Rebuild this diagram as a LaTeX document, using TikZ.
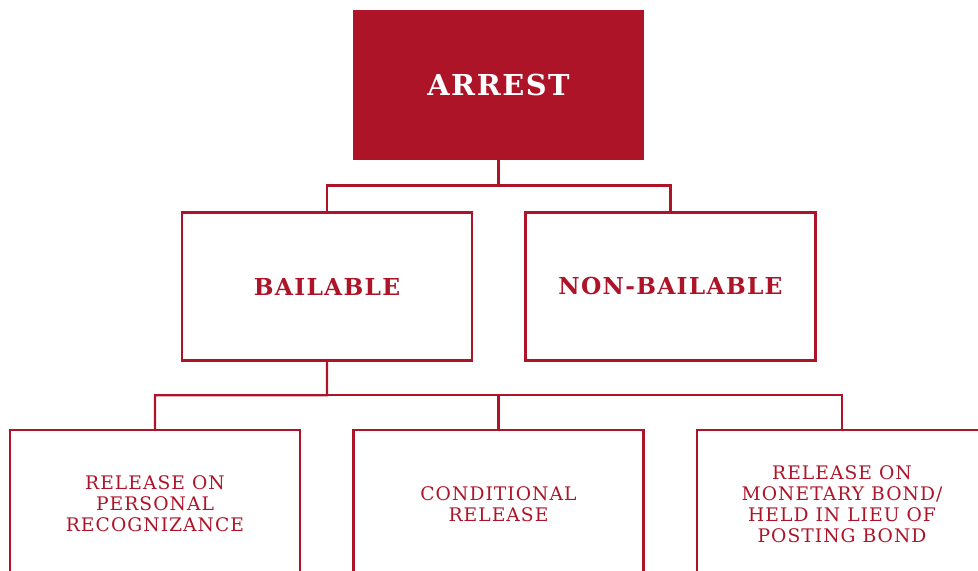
\documentclass[tikz,border=0pt]{standalone}
\usepackage{fontspec}
\setmainfont{DejaVu Serif}
\newfontfamily\slabfont[LetterSpace=5.5]{DejaVu Serif}
\usetikzlibrary{positioning,calc}
\definecolor{crimson}{RGB}{174,20,40}

\begin{document}
\begin{tikzpicture}[x=0.025cm, y=-0.025cm,
    box/.style={draw=crimson, line width=0.06cm, minimum width=7.25cm, minimum height=3.7cm,
        inner sep=0pt, align=center, text=crimson},
    head/.style={font=\slabfont\bfseries\fontsize{16.6}{20}\selectfont},
    leaf/.style={font=\slabfont\fontsize{13.3}{14.9}\selectfont},
    link/.style={crimson, line width=0.06cm}]
        \useasboundingbox (0,0) rectangle (978,571);
        \clip (0,0) rectangle (978,571);

        % Arresto
        \node[fill=crimson, minimum width=7.275cm, minimum height=3.725cm, inner sep=0pt, text=white,
            font=\slabfont\bfseries\fontsize{20.5}{24}\selectfont] (arrest) at (498.5, 85) {ARREST};

        % Secondo livello
        \node[box, head] (bail) at (327, 286.5) {BAILABLE};
        \node[box, head] (nonbail) at (670.5, 286.5) {NON-BAILABLE};

        % Terzo livello
        \node[box, leaf] (recog) at (155, 504) {RELEASE ON\\PERSONAL\\RECOGNIZANCE};
        \node[box, leaf] (cond) at (498.5, 504) {CONDITIONAL\\RELEASE};
        \node[box, leaf] (bond) at (842, 504) {RELEASE ON\\MONETARY BOND/\\HELD IN LIEU OF\\POSTING BOND};

        % Collegamenti
        \coordinate (j1) at ($(arrest.south)!.5!(arrest.south |- bail.north)$);
        \draw[link] (arrest.south) -- (j1) -| (bail.north);
        \draw[link] (j1) -| (nonbail.north);

        \coordinate (j2) at ($(bail.south)!.5!(bail.south |- cond.north)$);
        \draw[link] (bail.south) -- (j2) -| (recog.north);
        \draw[link] (j2) -| (cond.north);
        \draw[link] (j2) -| (bond.north);

    \end{tikzpicture}
\end{document}
